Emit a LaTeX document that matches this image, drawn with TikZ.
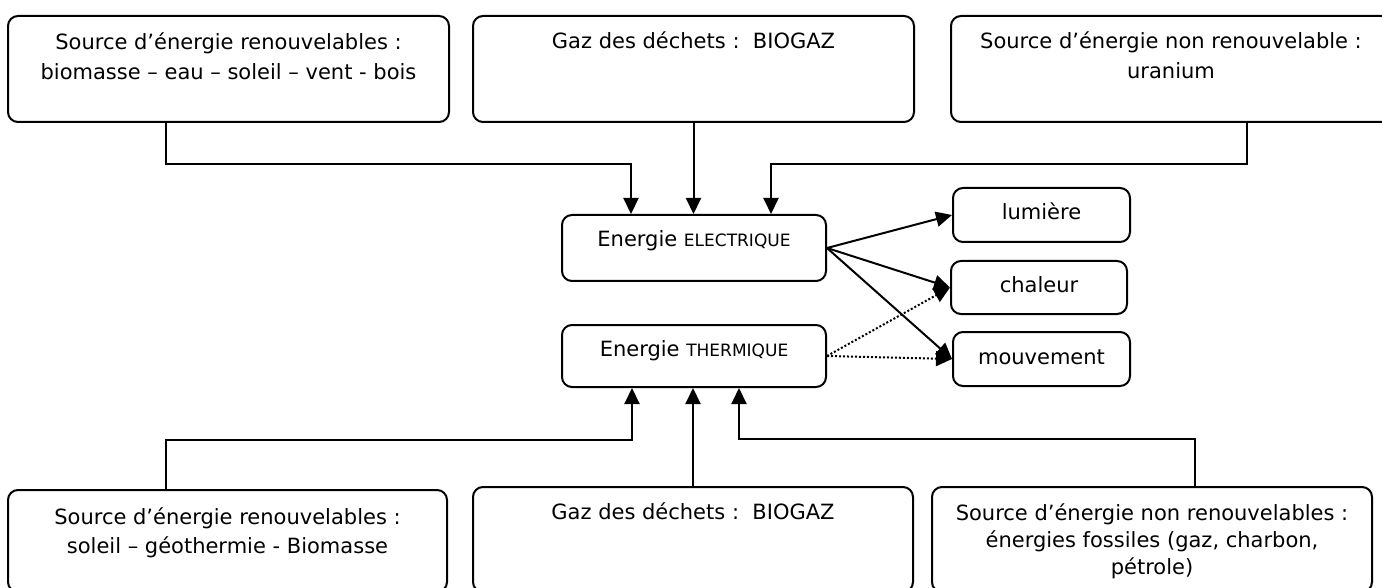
\documentclass[tikz,border=0pt]{standalone}
\usepackage{fontspec}
\setmainfont{DejaVu Sans}
\usetikzlibrary{arrows.meta,calc}
\newcommand{\mybox}[4]{\parbox[c][#2pt][t]{#1pt}{\centering\rule{0pt}{#3pt}#4}}
\newcommand{\smallcap}[1]{{\fontsize{17}{20}\selectfont #1}}
\tikzset{
  box/.style={draw, line width=2pt, rounded corners=10pt, inner sep=0pt, font=\fontsize{21}{29.5}\selectfont},
  conn/.style={line width=2pt},
  arr/.style={line width=2pt, -{Triangle[length=16pt,width=15pt]}},
  dotarr/.style={line width=2pt, dotted, -{Triangle[length=16pt,width=15pt]}}
}
\begin{document}
\begin{tikzpicture}[x=1pt,y=-1pt]
\useasboundingbox (0,0) rectangle (1382,588);
\clip (0,0) rectangle (1382,588);
% top boxes
\node[box] (b1) at (228.5,69) {\mybox{441}{106}{34}{Source d’énergie renouvelables :\\biomasse – eau – soleil – vent - bois}};
\node[box] (b2) at (693.5,69) {\mybox{441}{106}{33}{Gaz des déchets :\ \ BIOGAZ}};
\node[box] (b3) at (1171,69) {\mybox{440}{106}{33}{Source d’énergie non renouvelable :\\uranium}};
% middle
\node[box] (elec) at (694,248) {\mybox{264}{66}{32}{Energie \smallcap{ELECTRIQUE}}};
\node[box] (therm) at (694,356) {\mybox{264}{62}{31}{Energie \smallcap{THERMIQUE}}};
\node[box] (lum) at (1041.5,215) {\mybox{177}{54}{32}{lumière}};
\node[box] (cha) at (1039,287.5) {\mybox{176}{53}{31}{chaleur}};
\node[box] (mouv) at (1041.5,359) {\mybox{177}{54}{32}{mouvement}};
% bottom boxes
\node[box] (b4) at (227.5,541) {\mybox{439}{102}{34}{Source d’énergie renouvelables :\\soleil – géothermie - Biomasse}};
\node[box] (b5) at (693,539.5) {\mybox{440}{105}{32}{Gaz des déchets :\ \ BIOGAZ}};
\node[box, font=\fontsize{21}{27}\selectfont] (b6) at (1152,539.5) {\mybox{440}{105}{33}{Source d’énergie non renouvelables :\\énergies fossiles (gaz, charbon,\\pétrole)}};
% junctions
\coordinate (t1) at (166,164);
\coordinate (t3) at (1247,164);
\coordinate (u1) at (166,440);
\coordinate (u3) at (1195,439);
% top connectors
\draw[arr] (b1.south -| t1) -- (t1) -| ($(elec.north west)+(70,0)$);
\draw[arr] (b2.south) -- (b2.south |- elec.north);
\draw[arr] (b3.south -| t3) -- (t3) -| ($(elec.north east)+(-56,0)$);
% bottom connectors
\draw[arr] (b4.north -| u1) -- (u1) -| ($(therm.south west)+(71,0)$);
\draw[arr] (b5.north) -- (b5.north |- therm.south);
\draw[arr] (b6.north -| u3) -- (u3) -| ($(therm.south east)+(-88,0)$);
% outputs
\draw[arr] (elec.east) -- (lum.west);
\draw[arr] (elec.east) -- (cha.west);
\draw[arr] (elec.east) -- (mouv.west);
\draw[dotarr] (therm.east) -- (cha.west);
\draw[dotarr] (therm.east) -- (mouv.west);
\end{tikzpicture}
\end{document}
